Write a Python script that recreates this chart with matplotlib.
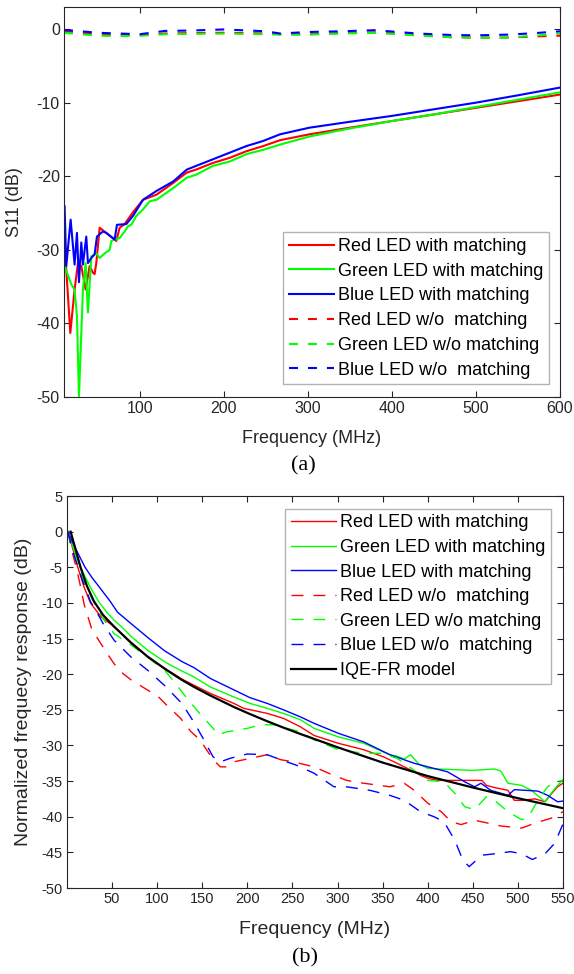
import numpy as np
import matplotlib
matplotlib.use("Agg")
import matplotlib.pyplot as plt

plt.rcParams['font.family'] = ['Liberation Sans', 'DejaVu Sans']
plt.rcParams['axes.unicode_minus'] = False

# ---------------- (a) S11 data ----------------
a_blue_x = [10.7, 12.7, 17.9, 22.6, 25.4, 27.8, 30.6, 32.5, 36.5, 38.5, 42.5, 46.4, 49.2, 56.3, 60.3,
            70.2, 73, 84.1, 92, 104, 120, 140, 156, 167, 187, 207, 227, 247, 267, 302, 350, 400,
            450, 500, 550, 600]
a_blue_y = [-24.1, -32.2, -25.9, -32.0, -27.7, -34.4, -29.0, -32.0, -28.2, -31.8, -31.1, -30.6, -28.2,
            -27.5, -27.7, -28.6, -26.6, -26.5, -25.4, -23.2, -22.0, -20.7, -19.1, -18.6, -17.7, -16.8,
            -15.9, -15.2, -14.3, -13.4, -12.6, -11.8, -10.9, -10.0, -9.0, -7.95]

a_red_x = [10.7, 17.5, 22.6, 26.6, 30.6, 35.7, 40.5, 44.4, 46.4, 48.4, 52.4, 60.3, 72.2, 76.2, 82.1,
           92, 104, 120, 140, 156, 167, 187, 207, 227, 247, 267, 302, 350, 400, 450, 500, 550, 600]
a_red_y = [-29.1, -41.3, -35.4, -31.8, -32.2, -35.4, -32.2, -33.1, -33.3, -31.8, -27.0, -27.7, -28.8,
           -27.0, -26.5, -24.9, -23.2, -22.5, -20.9, -19.5, -19.1, -18.2, -17.5, -16.6, -15.9, -15.1,
           -14.3, -13.4, -12.5, -11.6, -10.7, -9.8, -8.9]

a_green_x = [10.7, 18.7, 22.6, 25.4, 27.8, 30.6, 32.5, 35.7, 38.5, 42.5, 48.4, 52.4, 58.3, 64.3, 66.3,
             70.2, 76.2, 82.1, 86.1, 90, 96, 104, 112, 120, 140, 156, 167, 187, 207, 227, 247, 267,
             302, 350, 400, 450, 500, 550, 600]
a_green_y = [-32.2, -34.7, -35.4, -39.0, -49.9, -41.3, -35.4, -31.8, -38.5, -30.9, -30.5, -31.1, -30.5,
             -30.0, -28.8, -28.6, -28.4, -27.5, -26.8, -26.6, -25.4, -24.5, -23.4, -23.2, -21.6, -20.2,
             -19.8, -18.6, -18.0, -17.0, -16.4, -15.7, -14.6, -13.5, -12.5, -11.6, -10.6, -9.6, -8.6]

a_wo_x = [10, 30, 50, 75, 100, 130, 160, 200, 250, 267, 300, 340, 380, 430, 470, 500, 540, 570, 600]
a_wo_red = [-0.3, -0.5, -0.7, -0.8, -0.85, -0.6, -0.55, -0.5, -0.6, -0.7, -0.7, -0.55, -0.45, -0.8,
            -1.1, -1.15, -1.15, -1.0, -0.9]
a_wo_green = [-0.5, -0.7, -0.9, -0.95, -0.9, -0.7, -0.65, -0.6, -0.7, -0.75, -0.75, -0.6, -0.5, -0.85,
              -1.1, -1.2, -1.15, -0.9, -0.6]
a_wo_blue = [-0.1, -0.3, -0.5, -0.6, -0.7, -0.25, -0.2, -0.05, -0.3, -0.6, -0.4, -0.3, -0.15, -0.6,
             -0.8, -0.85, -0.75, -0.55, -0.3]

# ---------------- (b) frequency response data ----------------
b_red_x = [1, 6, 12, 19, 26, 38, 52, 70, 92, 111, 129, 159, 185, 196, 222, 240, 259, 274, 301, 329,
           351, 366, 385, 392, 400, 411, 441, 460, 465, 474, 489, 496, 504, 519, 530, 537, 544, 550]
b_red_y = [0, -2.2, -5.0, -7.8, -10.0, -12.0, -13.3, -15.4, -17.8, -19.4, -20.8, -22.7, -24.1, -24.8,
           -25.5, -26.2, -27.4, -28.6, -29.7, -30.6, -31.6, -32.5, -33.7, -34.2, -34.6, -34.9, -34.9,
           -34.9, -35.6, -35.9, -36.3, -37.7, -37.7, -37.5, -37.9, -36.8, -35.8, -35.3]

b_green_x = [1, 6, 15, 25, 35, 44, 52, 61, 71, 90, 110, 128, 141, 159, 185, 203, 222, 240, 259, 274,
             301, 329, 358, 366, 374, 381, 390, 400, 411, 450, 474, 481, 489, 504, 515, 530, 537, 544, 550]
b_green_y = [0, -2.0, -5.0, -7.6, -9.8, -11.3, -12.4, -13.4, -14.7, -16.7, -18.4, -19.6, -20.4, -21.8,
             -23.2, -24.1, -24.8, -25.5, -26.4, -27.6, -28.8, -29.7, -31.3, -31.5, -31.9, -31.3, -32.6,
             -33.2, -33.3, -33.5, -33.3, -33.6, -35.3, -35.6, -36.3, -37.9, -36.7, -35.6, -34.8]

b_blue_x = [1, 8, 20, 28, 36, 48, 56, 71, 90, 108, 127, 141, 159, 185, 203, 222, 240, 259, 274, 301,
            329, 358, 385, 400, 422, 441, 452, 459, 470, 489, 496, 522, 533, 544, 550]
b_blue_y = [0, -2.0, -5.0, -6.5, -7.8, -9.8, -11.3, -12.9, -14.9, -16.7, -18.2, -19.1, -20.6, -22.2,
            -23.3, -24.1, -25.0, -26.0, -26.9, -28.3, -29.5, -31.3, -32.5, -33.0, -33.7, -35.1, -35.8,
            -35.3, -36.3, -37.0, -36.2, -36.4, -37.0, -37.9, -37.8]

b_wo_red_x = [1, 5, 11, 15, 19, 27, 34, 44, 52, 62, 71, 89, 100, 111, 126, 137, 148, 162, 170, 177,
              185, 200, 222, 237, 251, 274, 292, 310, 329, 358, 374, 385, 400, 415, 426, 437, 452, 467,
              481, 504, 519, 537, 550]
b_wo_red_y = [0, -2.5, -5.4, -7.7, -10.2, -13.5, -15.0, -17.0, -18.5, -19.9, -20.8, -22.2, -23.0, -24.4,
              -26.2, -28.0, -29.3, -32.0, -33.0, -33.0, -32.3, -31.9, -31.3, -32.0, -32.3, -33.0, -34.0,
              -34.9, -35.3, -35.8, -35.3, -36.3, -38.1, -39.3, -40.7, -41.1, -40.5, -40.9, -41.3, -41.6,
              -40.9, -40.2, -39.3]

b_wo_green_x = [1, 7, 17, 28, 41, 52, 71, 89, 108, 119, 130, 141, 152, 162, 167, 177, 200, 215, 230,
                244, 259, 274, 301, 329, 348, 366, 385, 400, 418, 430, 441, 452, 465, 474, 489, 504,
                511, 522, 533, 541, 550]
b_wo_green_y = [0, -3.0, -6.5, -9.5, -12.4, -14.3, -15.9, -17.6, -19.4, -21.1, -22.9, -24.6, -26.2,
                -27.6, -28.5, -28.1, -27.6, -27.1, -27.1, -27.6, -28.1, -29.2, -30.6, -31.1, -31.1,
                -31.8, -33.5, -34.9, -35.1, -36.7, -38.6, -39.0, -37.2, -37.7, -39.3, -40.4, -40.2,
                -37.7, -35.8, -35.1, -34.9]

b_wo_blue_x = [1, 7, 17, 26, 34, 40, 52, 71, 90, 110, 128, 140, 150, 162, 170, 181, 200, 222, 237, 255,
               274, 296, 310, 336, 358, 374, 392, 407, 418, 430, 439, 446, 460, 474, 492, 504, 516, 530,
               541, 550]
b_wo_blue_y = [0, -3.0, -6.8, -9.8, -11.5, -12.9, -15.2, -17.6, -19.5, -21.8, -24.2, -26.6, -28.8, -31.6,
               -32.3, -31.8, -31.2, -31.3, -32.0, -32.8, -33.9, -35.8, -35.8, -36.3, -37.0, -37.7, -39.3,
               -40.0, -40.7, -43.3, -46.1, -47.0, -45.4, -45.2, -44.9, -45.2, -46.0, -45.2, -43.7, -41.0]

b_model_x = [4, 8, 15, 22, 30, 40, 52, 71, 89, 108, 126, 141, 159, 185, 203, 222, 240, 259, 301, 350,
             400, 450, 500, 550]
b_model_y = [0, -1.8, -5.0, -7.6, -9.8, -11.7, -13.3, -15.6, -17.5, -19.2, -20.7, -21.8, -23.0, -24.6,
             -25.6, -26.6, -27.5, -28.4, -30.3, -32.4, -34.3, -35.9, -37.4, -38.8]

labels_a = ['Red LED with matching', 'Green LED with matching', 'Blue LED with matching',
            'Red LED w/o  matching', 'Green LED w/o matching', 'Blue LED w/o  matching']
labels_b = labels_a + ['IQE-FR model']

RED, GREEN, BLUE = '#FF0000', '#00FF00', '#0000FF'
AX_COL = '#262626'


def style_axes(ax, size):
    for s in ax.spines.values():
        s.set_color(AX_COL)
        s.set_linewidth(0.8)
    ax.tick_params(direction='in', top=True, right=True, length=4, width=0.8,
                   colors=AX_COL, labelsize=size, pad=3)


def add_legend(ax, loc, anchor, spacing):
    leg = ax.legend(loc=loc, bbox_to_anchor=anchor, fontsize=13,
                    frameon=True, fancybox=False, borderaxespad=0, borderpad=0.3,
                    labelspacing=spacing, handlelength=2.5, handletextpad=0.25)
    leg.get_frame().set_edgecolor('#A0A0A0')
    leg.get_frame().set_linewidth(1.0)
    return leg


fig = plt.figure(figsize=(5.74, 9.74), dpi=100)

# ---------------- panel (a) ----------------
ax1 = fig.add_axes([64 / 574, 1 - 397 / 974, 496 / 574, 390 / 974])
lw = 1.5
da = (0, (4.3, 4.8))
ax1.plot(a_red_x, a_red_y, color=RED, lw=lw, label=labels_a[0])
ax1.plot(a_green_x, a_green_y, color=GREEN, lw=lw, label=labels_a[1])
ax1.plot(a_blue_x, a_blue_y, color=BLUE, lw=lw, label=labels_a[2])
ax1.plot(a_wo_x, a_wo_red, color=RED, lw=lw, ls=da, label=labels_a[3])
ax1.plot(a_wo_x, a_wo_green, color=GREEN, lw=lw, ls=da, label=labels_a[4])
ax1.plot(a_wo_x, a_wo_blue, color=BLUE, lw=lw, ls=da, label=labels_a[5])
ax1.set_xlim(10, 600)
ax1.set_ylim(-50, 3)
ax1.set_xticks([100, 200, 300, 400, 500, 600])
ax1.set_yticks([0, -10, -20, -30, -40, -50])
style_axes(ax1, 11.5)
ax1.set_xlabel('Frequency (MHz)', fontsize=13, color=AX_COL)
ax1.set_ylabel('S11 (dB)', fontsize=13, color=AX_COL)
ax1.xaxis.set_label_coords(0.5, -0.085)
ax1.yaxis.set_label_coords(-0.083, 0.5)
add_legend(ax1, 'lower right', (0.978, 0.033), 0.43)
fig.text(303 / 574, 1 - 466 / 974, '(a)', family='Liberation Serif', fontsize=16,
         ha='center', va='center')

# ---------------- panel (b) ----------------
ax2 = fig.add_axes([67 / 574, 1 - 888 / 974, 496 / 574, 392 / 974])
lw2 = 1.0
db = (0, (8.6, 7.2))
ax2.plot(b_red_x, b_red_y, color=RED, lw=lw2, label=labels_b[0])
ax2.plot(b_green_x, b_green_y, color=GREEN, lw=lw2, label=labels_b[1])
ax2.plot(b_blue_x, b_blue_y, color=BLUE, lw=lw2, label=labels_b[2])
ax2.plot(b_wo_red_x, b_wo_red_y, color=RED, lw=lw2, ls=db, label=labels_b[3])
ax2.plot(b_wo_green_x, b_wo_green_y, color=GREEN, lw=lw2, ls=db, label=labels_b[4])
ax2.plot(b_wo_blue_x, b_wo_blue_y, color=BLUE, lw=lw2, ls=db, label=labels_b[5])
ax2.plot(b_model_x, b_model_y, color='black', lw=1.6, label=labels_b[6])
ax2.set_xlim(0, 550)
ax2.set_ylim(-50, 5)
ax2.set_xticks(np.arange(50, 551, 50))
ax2.set_yticks(np.arange(5, -51, -5))
style_axes(ax2, 10.5)
ax2.set_xlabel('Frequency (MHz)', fontsize=14, color=AX_COL)
ax2.set_ylabel('Normalized frequecy response (dB)', fontsize=14, color=AX_COL)
ax2.xaxis.set_label_coords(0.5, -0.083)
ax2.yaxis.set_label_coords(-0.07, 0.5)
add_legend(ax2, 'upper right', (0.976, 0.967), 0.42)
fig.text(305 / 574, 1 - 958 / 974, '(b)', family='Liberation Serif', fontsize=16,
         ha='center', va='center')

fig.savefig('out.png', dpi=100)
